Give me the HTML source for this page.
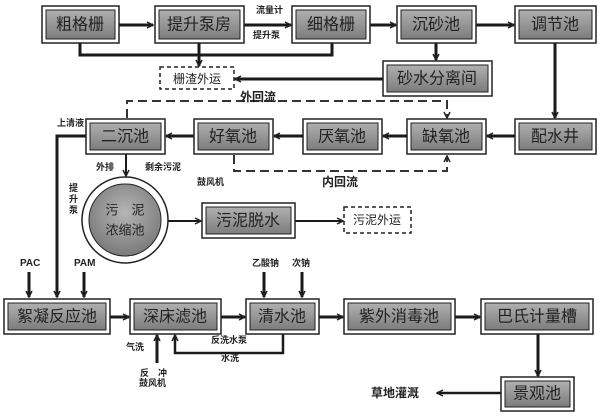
<!DOCTYPE html>
<html><head><meta charset="utf-8"><style>
body{margin:0;background:#fff}
svg{display:block}
text{font-family:"Liberation Sans","Noto Sans CJK SC",sans-serif;fill:#222}
.b{font-size:16px;text-anchor:middle;dominant-baseline:central}
.s{font-size:9px;font-weight:bold}
</style></head><body>
<svg width="600" height="419" viewBox="0 0 600 419">
<defs>
<linearGradient id="g" x1="0" y1="0" x2="0" y2="1"><stop offset="0" stop-color="#b0b0b0"/><stop offset="1" stop-color="#7c7c7c"/></linearGradient>
<radialGradient id="rg" cx="0.5" cy="0.4" r="0.6"><stop offset="0" stop-color="#b5b5b5"/><stop offset="1" stop-color="#7a7a7a"/></radialGradient>
<marker id="a" markerWidth="8" markerHeight="8" refX="7" refY="4" orient="auto" markerUnits="userSpaceOnUse"><path d="M1,1 L7,4 L1,7" fill="none" stroke="#222" stroke-width="1.5"/></marker>
</defs>
<g id="boxes">
</g>
<g stroke="#1a1a1a" stroke-width="3" fill="none">
<!-- row1 arrows -->
<line x1="119" y1="25" x2="153" y2="25" marker-end="url(#a)"/>
<line x1="244" y1="25" x2="291" y2="25" marker-end="url(#a)"/>
<line x1="370" y1="25" x2="396" y2="25" marker-end="url(#a)"/>
<line x1="476" y1="25" x2="514" y2="25" marker-end="url(#a)"/>
<polyline points="80,43 80,55 332,55 332,43"/>
<line x1="199" y1="43" x2="199" y2="66" marker-end="url(#a)"/>
<line x1="436" y1="43" x2="436" y2="60" marker-end="url(#a)"/>
<line x1="383" y1="79" x2="235" y2="79" marker-end="url(#a)"/>
<line x1="555" y1="43" x2="555" y2="118" marker-end="url(#a)"/>
<!-- row2 -->
<line x1="515" y1="136" x2="487" y2="136" marker-end="url(#a)"/>
<line x1="407" y1="136" x2="383" y2="136" marker-end="url(#a)"/>
<line x1="303" y1="136" x2="274" y2="136" marker-end="url(#a)"/>
<line x1="194" y1="136" x2="166" y2="136" marker-end="url(#a)"/>
<polyline points="86,136 57,136 57,297" marker-end="url(#a)"/>
<line x1="126" y1="154" x2="126" y2="176" marker-end="url(#a)" stroke-width="2"/>
<line x1="168" y1="221" x2="201" y2="221" marker-end="url(#a)" stroke-width="2"/>
<line x1="295" y1="221" x2="343" y2="221" marker-end="url(#a)" stroke-width="2"/>
<!-- row3 -->
<line x1="29" y1="272" x2="29" y2="297" marker-end="url(#a)"/>
<line x1="84" y1="272" x2="84" y2="297" marker-end="url(#a)"/>
<line x1="264" y1="272" x2="264" y2="297" marker-end="url(#a)"/>
<line x1="302" y1="272" x2="302" y2="297" marker-end="url(#a)"/>
<line x1="110" y1="317" x2="129" y2="317" marker-end="url(#a)"/>
<line x1="221" y1="317" x2="245" y2="317" marker-end="url(#a)"/>
<line x1="319" y1="317" x2="343" y2="317" marker-end="url(#a)"/>
<line x1="455" y1="317" x2="480" y2="317" marker-end="url(#a)"/>
<polyline points="283,334 283,353 175,353 175,335" marker-end="url(#a)" stroke-width="2.5"/>
<line x1="157" y1="363" x2="157" y2="335" marker-end="url(#a)"/>
<line x1="538" y1="334" x2="538" y2="376" marker-end="url(#a)"/>
<line x1="501" y1="393" x2="437" y2="393" marker-end="url(#a)" stroke-width="2.5"/>
</g>
<g stroke="#333" stroke-width="2" fill="none" stroke-dasharray="9,5">
<polyline points="127,118 127,101 447,101 447,118" marker-end="url(#a)"/>
<polyline points="234,155 234,171 447,171 447,156" marker-end="url(#a)"/>
</g>
<!-- boxes -->
<g stroke="#222" stroke-width="1.5">
<rect x="42" y="6" width="77" height="37" fill="#fff"/><rect x="46" y="10" width="69" height="29" fill="url(#g)" stroke-width="1"/>
<rect x="155" y="6" width="89" height="37" fill="#fff"/><rect x="159" y="10" width="81" height="29" fill="url(#g)" stroke-width="1"/>
<rect x="292" y="6" width="78" height="37" fill="#fff"/><rect x="296" y="10" width="70" height="29" fill="url(#g)" stroke-width="1"/>
<rect x="397" y="6" width="79" height="37" fill="#fff"/><rect x="401" y="10" width="71" height="29" fill="url(#g)" stroke-width="1"/>
<rect x="515" y="6" width="81" height="37" fill="#fff"/><rect x="519" y="10" width="73" height="29" fill="url(#g)" stroke-width="1"/>
<rect x="383" y="61" width="109" height="35" fill="#fff"/><rect x="387" y="65" width="101" height="27" fill="url(#g)" stroke-width="1"/>
<rect x="86" y="119" width="79" height="35" fill="#fff"/><rect x="90" y="123" width="71" height="27" fill="url(#g)" stroke-width="1"/>
<rect x="194" y="119" width="79" height="35" fill="#fff"/><rect x="198" y="123" width="71" height="27" fill="url(#g)" stroke-width="1"/>
<rect x="303" y="119" width="79" height="35" fill="#fff"/><rect x="307" y="123" width="71" height="27" fill="url(#g)" stroke-width="1"/>
<rect x="407" y="119" width="79" height="35" fill="#fff"/><rect x="411" y="123" width="71" height="27" fill="url(#g)" stroke-width="1"/>
<rect x="515" y="119" width="81" height="35" fill="#fff"/><rect x="519" y="123" width="73" height="27" fill="url(#g)" stroke-width="1"/>
<rect x="202" y="203" width="93" height="35" fill="#fff"/><rect x="206" y="207" width="85" height="27" fill="url(#g)" stroke-width="1"/>
<rect x="4" y="299" width="106" height="35" fill="#fff"/><rect x="8" y="303" width="98" height="27" fill="url(#g)" stroke-width="1"/>
<rect x="130" y="299" width="91" height="35" fill="#fff"/><rect x="134" y="303" width="83" height="27" fill="url(#g)" stroke-width="1"/>
<rect x="246" y="299" width="73" height="35" fill="#fff"/><rect x="250" y="303" width="65" height="27" fill="url(#g)" stroke-width="1"/>
<rect x="344" y="299" width="111" height="35" fill="#fff"/><rect x="348" y="303" width="103" height="27" fill="url(#g)" stroke-width="1"/>
<rect x="481" y="299" width="112" height="35" fill="#fff"/><rect x="485" y="303" width="104" height="27" fill="url(#g)" stroke-width="1"/>
<rect x="501" y="377" width="73" height="34" fill="#fff"/><rect x="505" y="381" width="65" height="26" fill="url(#g)" stroke-width="1"/>
<circle cx="125" cy="220" r="43" fill="#fff"/><circle cx="125" cy="220" r="36" fill="url(#rg)" stroke-width="1"/>
</g>
<g stroke="#222" stroke-width="1.5" fill="#fff" stroke-dasharray="4,3">
<rect x="160" y="67" width="74" height="22"/>
<rect x="344" y="207" width="67" height="26"/>
</g>
<g class="b">
<text x="80" y="25" class="b">粗格栅</text>
<text x="199" y="25" class="b">提升泵房</text>
<text x="331" y="25" class="b">细格栅</text>
<text x="436" y="25" class="b">沉砂池</text>
<text x="555" y="25" class="b">调节池</text>
<text x="437" y="79" class="b">砂水分离间</text>
<text x="125" y="137" class="b">二沉池</text>
<text x="233" y="137" class="b">好氧池</text>
<text x="342" y="137" class="b">厌氧池</text>
<text x="446" y="137" class="b">缺氧池</text>
<text x="555" y="137" class="b">配水井</text>
<text x="248" y="221" class="b">污泥脱水</text>
<text x="57" y="317" class="b">絮凝反应池</text>
<text x="175" y="317" class="b">深床滤池</text>
<text x="282" y="317" class="b">清水池</text>
<text x="399" y="317" class="b">紫外消毒池</text>
<text x="537" y="317" class="b">巴氏计量槽</text>
<text x="537" y="394" class="b">景观池</text>
<text x="125" y="210" class="b" style="font-size:13px">污　泥</text>
<text x="125" y="230" class="b" style="font-size:13px">浓缩池</text>
<text x="197" y="79" class="b" style="font-size:12px">栅渣外运</text>
<text x="377" y="220" class="b" style="font-size:12px">污泥外运</text>
<text x="258" y="97" class="b" style="font-size:12px;font-weight:bold">外回流</text>
<text x="340" y="182" class="b" style="font-size:12px;font-weight:bold">内回流</text>
<text x="395" y="393" class="b" style="font-size:12px;font-weight:bold">草地灌溉</text>
</g>
<text x="256" y="13" class="s">流量计</text>
<text x="253" y="38" class="s">提升泵</text>
<text x="57" y="126" class="s">上清液</text>
<text x="96" y="170" class="s">外排</text>
<text x="145" y="170" class="s">剩余污泥</text>
<text x="197" y="185" class="s">鼓风机</text>
<text x="69" y="191" class="s">提</text><text x="69" y="202" class="s">升</text><text x="69" y="213" class="s">泵</text>
<text x="20" y="266" class="s" style="font-size:10px">PAC</text>
<text x="74" y="266" class="s" style="font-size:10px">PAM</text>
<text x="252" y="266" class="s">乙酸钠</text>
<text x="292" y="266" class="s">次钠</text>
<text x="211" y="343" class="s">反洗水泵</text>
<text x="221" y="361" class="s">水洗</text>
<text x="126" y="350" class="s">气洗</text>
<text x="140" y="376" class="s">反　冲</text>
<text x="139" y="386" class="s">鼓风机</text>
</svg>
</body></html>
